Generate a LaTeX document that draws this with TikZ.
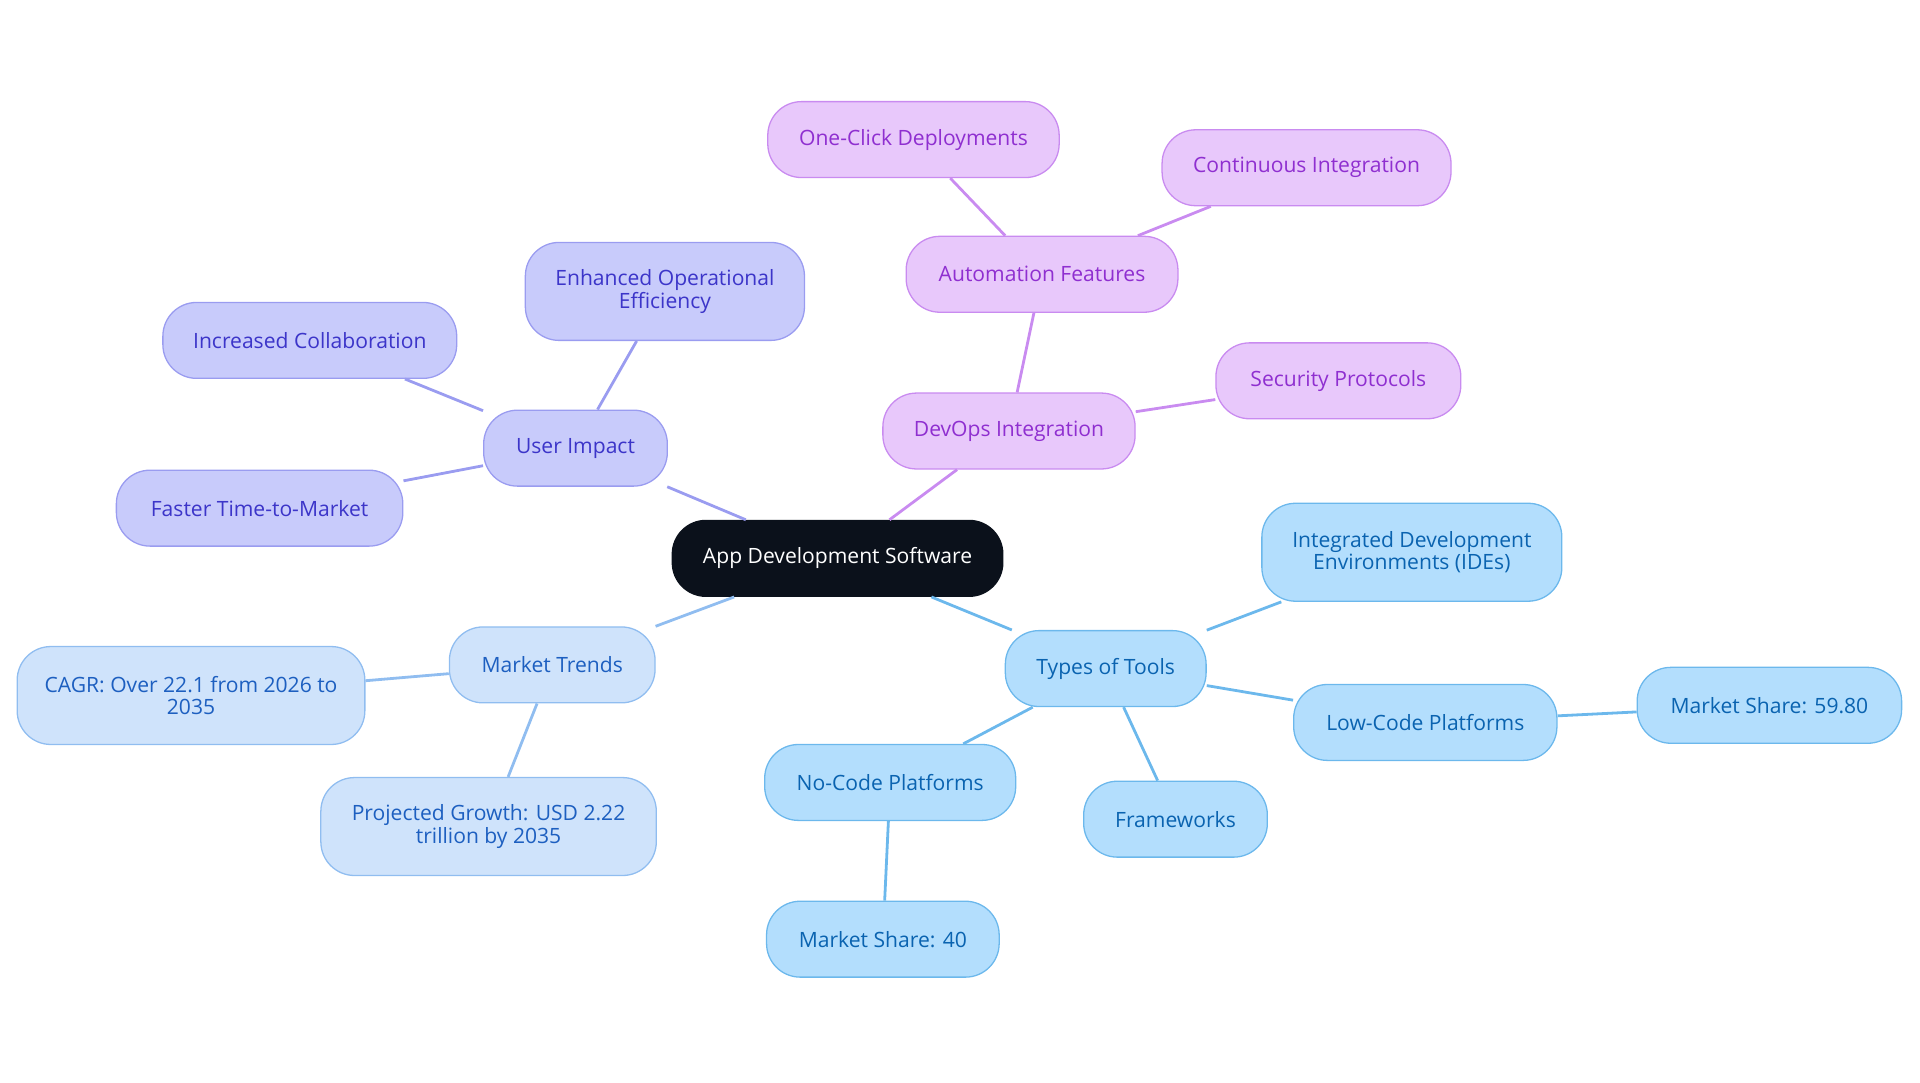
\documentclass[tikz,border=0pt]{standalone}
\usepackage{fontspec}
\setmainfont{Open Sans}
\usetikzlibrary{positioning}
\definecolor{rootfill}{HTML}{0B111B}
\definecolor{vfill}{HTML}{C8CBFB}\definecolor{vline}{HTML}{9A9CF0}\definecolor{vtext}{HTML}{3C35C9}
\definecolor{pfill}{HTML}{E8C8FB}\definecolor{pline}{HTML}{C98BF0}\definecolor{ptext}{HTML}{8F2FD0}
\definecolor{lfill}{HTML}{CFE3FB}\definecolor{lline}{HTML}{90BDF0}\definecolor{ltext}{HTML}{1D5FC0}
\definecolor{bfill}{HTML}{B3DEFD}\definecolor{bline}{HTML}{6CB8EC}\definecolor{btext}{HTML}{0A63B0}
\tikzset{
  box/.style={rectangle,rounded corners=0.55cm,minimum height=1.24cm,align=center,
    font=\fontsize{9.8}{10.6}\selectfont,inner sep=2pt,line width=0.6pt},
  root/.style={box,fill=rootfill,draw=rootfill,text=white},
  viol/.style={box,fill=vfill,draw=vline,text=vtext},
  purp/.style={box,fill=pfill,draw=pline,text=ptext},
  lblu/.style={box,fill=lfill,draw=lline,text=ltext},
  blu/.style={box,fill=bfill,draw=bline,text=btext},
  tall/.style={minimum height=1.6cm},
  link/.style={line width=1.3pt}
}
\begin{document}
\begin{tikzpicture}[x=0.02cm,y=-0.02cm]
\useasboundingbox (0,0) rectangle (1568,884);
% centre
\node[root,minimum width=5.4cm] (app) at (684,456) {App Development Software};
% user impact
\node[viol,minimum width=3cm] (user) at (470,366) {User Impact};
\node[viol,tall,minimum width=4.56cm] (eff) at (543,238) {Enhanced Operational\\Efficiency};
\node[viol,minimum width=4.8cm] (collab) at (253,278) {Increased Collaboration};
\node[viol,minimum width=4.68cm] (ttm) at (212,415) {Faster Time-to-Market};
% devops
\node[purp,minimum width=4.12cm] (devops) at (824,352) {DevOps Integration};
\node[purp,minimum width=4.44cm] (auto) at (851,224) {Automation Features};
\node[purp,minimum width=4.76cm] (click) at (746,114) {One-Click Deployments};
\node[purp,minimum width=4.72cm] (ci) at (1067,137) {Continuous Integration};
\node[purp,minimum width=4cm] (sec) at (1093,311) {Security Protocols};
% market
\node[lblu,minimum width=3.36cm] (trend) at (451,543) {Market Trends};
\node[lblu,tall,minimum width=5.68cm] (cagr) at (156,568) {CAGR: Over 22.1 from 2026 to\\2035};
\node[lblu,tall,minimum width=5.48cm] (proj) at (399,675) {Projected Growth: USD 2.22\\trillion by 2035};
% tools
\node[blu,minimum width=3.28cm] (tools) at (903,546) {Types of Tools};
\node[blu,tall,minimum width=4.9cm] (ide) at (1153,451) {Integrated Development\\Environments (IDEs)};
\node[blu,minimum width=4.3cm] (low) at (1164,590) {Low-Code Platforms};
\node[blu,minimum width=4.32cm] (share1) at (1445,576) {Market Share: 59.80};
\node[blu,minimum width=4.1cm] (nocode) at (727,639) {No-Code Platforms};
\node[blu,minimum width=3cm] (frame) at (960,669) {Frameworks};
\node[blu,minimum width=3.8cm] (share2) at (721,767) {Market Share: 40};
% links
\draw[link,vline] (app) -- (user);
\foreach \n in {eff,collab,ttm} \draw[link,vline] (user) -- (\n);
\draw[link,pline] (app) -- (devops);
\draw[link,pline] (devops) -- (auto);
\draw[link,pline] (devops) -- (sec);
\draw[link,pline] (auto) -- (click);
\draw[link,pline] (auto) -- (ci);
\draw[link,lline] (app) -- (trend);
\draw[link,lline] (trend) -- (cagr);
\draw[link,lline] (trend) -- (proj);
\draw[link,bline] (app) -- (tools);
\foreach \n in {ide,low,nocode,frame} \draw[link,bline] (tools) -- (\n);
\draw[link,bline] (low) -- (share1);
\draw[link,bline] (nocode) -- (share2);
\end{tikzpicture}
\end{document}
